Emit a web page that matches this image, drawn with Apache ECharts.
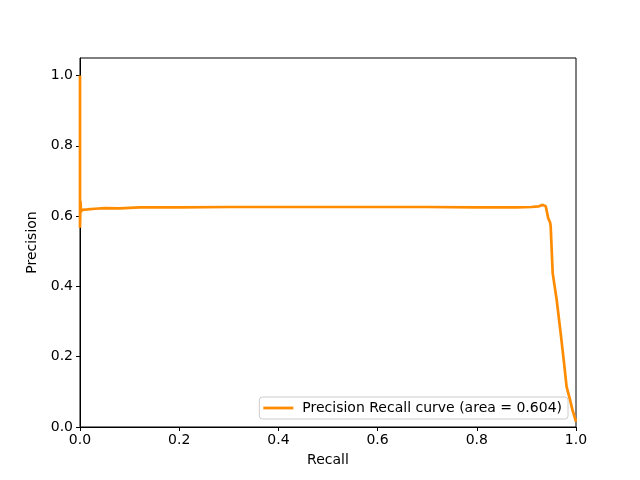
<!DOCTYPE html>
<html>
<head>
<meta charset="utf-8">
<script src="https://cdn.jsdelivr.net/npm/echarts@6/dist/echarts.min.js"></script>
<style>html,body{margin:0;padding:0;background:#fff;}#c{width:640px;height:480px;}</style>
</head>
<body>
<div id="c"></div>
<script>
const recall = [0, 0, 0.001, 0.002, 0.004, 0.008, 0.015, 0.03, 0.05, 0.08, 0.12, 0.2, 0.3, 0.4, 0.5, 0.6, 0.7, 0.8, 0.88, 0.91, 0.925, 0.933, 0.939, 0.944, 0.948, 0.949, 0.953, 0.961, 0.969, 0.976, 0.981, 0.988, 0.993, 1.0];
const precision = [1.0, 0.567, 0.642, 0.612, 0.618, 0.616, 0.619, 0.621, 0.623, 0.622, 0.625, 0.625, 0.626, 0.626, 0.626, 0.626, 0.626, 0.625, 0.625, 0.626, 0.628, 0.632, 0.628, 0.594, 0.581, 0.570, 0.438, 0.362, 0.268, 0.181, 0.115, 0.077, 0.048, 0.015];
const xTicks = [0, 0.2, 0.4, 0.6, 0.8, 1.0];
const yTicks = [0, 0.2, 0.4, 0.6, 0.8, 1.0];
const seriesName = 'Precision Recall curve (area = 0.604)';

const chart = echarts.init(document.getElementById('c'), null, {renderer: 'canvas'});
const font = 'DejaVu Sans';
chart.setOption({
  animation: false,
  grid: {left: 80, right: 64, top: 58, bottom: 53, show: true, borderColor: '#000', borderWidth: 1, containLabel: false},
  xAxis: {
    type: 'value', min: 0, max: 1,
    name: 'Recall', nameLocation: 'middle', nameGap: 26,
    nameTextStyle: {fontFamily: font, fontSize: 14, color: '#000'},
    axisLine: {show: true, lineStyle: {color: '#000', width: 1}},
    axisTick: {show: true, length: 4, lineStyle: {color: '#000'}, customValues: xTicks},
    axisLabel: {fontFamily: font, fontSize: 14, color: '#000', margin: 6, customValues: xTicks, formatter: v => v.toFixed(1)},
    splitLine: {show: false}
  },
  yAxis: {
    type: 'value', min: 0, max: 1.05,
    name: 'Precision', nameLocation: 'middle', nameGap: 37, nameRotate: 90,
    nameTextStyle: {fontFamily: font, fontSize: 14, color: '#000'},
    axisLine: {show: true, lineStyle: {color: '#000', width: 1}},
    axisTick: {show: true, length: 4, lineStyle: {color: '#000'}, customValues: yTicks},
    axisLabel: {fontFamily: font, fontSize: 14, color: '#000', margin: 7, customValues: yTicks, formatter: v => v.toFixed(1)},
    splitLine: {show: false}
  },
  legend: {
    show: true, right: 72, bottom: 61, orient: 'vertical',
    backgroundColor: 'rgba(255,255,255,0.8)', borderColor: '#ccc', borderWidth: 1, borderRadius: 3,
    padding: [4, 6, 4, 4], itemWidth: 30, itemHeight: 16, itemGap: 4,
    textStyle: {fontFamily: font, fontSize: 14, color: '#000', padding: [0, 0, 0, 4]},
    data: [{name: seriesName, icon: 'path://M0,6.6L30,6.6L30,9.4L0,9.4Z'}]
  },
  series: [{
    name: seriesName, type: 'line', showSymbol: false, symbol: 'none',
    data: recall.map((r, i) => [r, precision[i]]),
    lineStyle: {color: '#ff8c00', width: 2.7},
    itemStyle: {color: '#ff8c00'},
    clip: true
  }]
});
</script>
</body>
</html>
